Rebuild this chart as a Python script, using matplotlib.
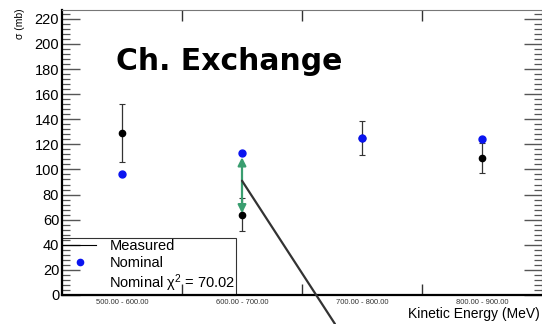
import matplotlib
matplotlib.use("Agg")
import matplotlib.pyplot as plt
from matplotlib.lines import Line2D
from matplotlib.ticker import MultipleLocator, FixedLocator
import numpy as np

plt.rcParams['font.family'] = ['Liberation Sans', 'DejaVu Sans']
plt.rcParams['mathtext.fontset'] = 'custom'
plt.rcParams['mathtext.rm'] = 'Liberation Sans'
plt.rcParams['mathtext.it'] = 'Liberation Sans'

bins = ['500.00 - 600.00', '600.00 - 700.00', '700.00 - 800.00', '800.00 - 900.00']
measured = [129, 64, 125, 109]
measured_err = [23, 13, 13.5, 12]
nominal = [96, 113, 125, 124.5]
chi2_label = 'Nominal \u03c7$^{2}$ = 70.02'
arrow_from = 113
arrow_to = 64
pointer_y = 91

fig = plt.figure(figsize=(5.42, 3.24), dpi=100)
ax = fig.add_axes([62/542, 29/324, 480/542, 285/324])

x = np.arange(len(bins)) + 0.5
ax.errorbar(x, measured, yerr=measured_err, fmt='o', color='black', ms=4.5,
            elinewidth=0.9, capsize=2, capthick=0.8, ecolor='#333333', zorder=3)
ax.plot(x, nominal, 'o', color='#0a14f0', ms=5, zorder=4)

ax.set_xlim(0, 4)
ax.set_ylim(0, 227)
ax.xaxis.set_major_locator(FixedLocator([1, 2, 3]))
ax.set_xticklabels([])
ax.xaxis.set_minor_locator(FixedLocator(list(x)))
ax.set_xticklabels(bins, minor=True, fontsize=5.5, color='#333333')
ax.tick_params(axis='x', which='minor', length=0, pad=3)
ax.tick_params(axis='x', which='major', direction='in', length=8, top=True, width=1, color='#333333')

ax.yaxis.set_major_locator(MultipleLocator(20))
ax.yaxis.set_minor_locator(MultipleLocator(4))
ax.tick_params(axis='y', which='major', direction='in', length=13, right=True, labelsize=10.5, width=1, color='#555555', pad=2)
ax.tick_params(axis='y', which='minor', direction='in', length=6, right=True, width=0.9, color='#555555')

ax.spines['left'].set_linewidth(1.6)
ax.spines['bottom'].set_linewidth(1.6)
ax.spines['top'].set_color('#777777')
ax.spines['right'].set_color('#777777')

fig.text(20/542, 1 - 8/324, '\u03c3 (mb)', rotation=90, ha='center', va='top', fontsize=7.5)
fig.text(540/542, 1 - 314/324, 'Kinetic Energy (MeV)', ha='right', va='center', fontsize=10)

ax.text(116/542, 1 - 61/324, 'Ch. Exchange', transform=fig.transFigure, fontsize=21.5,
        fontweight='bold', ha='left', va='center', family='DejaVu Sans')

ax.annotate('', xy=(1.5, arrow_to), xytext=(1.5, arrow_from),
            arrowprops=dict(arrowstyle='<|-|>', color='#3a9e70', lw=1.6,
                            mutation_scale=12, shrinkA=3, shrinkB=1), zorder=5)
ax.annotate('', xy=(1.5, pointer_y), xycoords='data', xytext=(335/542, 0),
            textcoords='figure fraction',
            arrowprops=dict(arrowstyle='-', color='#333333', lw=1.6, shrinkA=0, shrinkB=0),
            annotation_clip=False, zorder=5)

handles = [Line2D([], [], color='black', lw=0.8),
           Line2D([], [], color='#0a14f0', marker='o', ls='none', ms=4.5),
           Line2D([], [], color='none')]
leg = ax.legend(handles, ['Measured', 'Nominal', chi2_label], loc='lower left',
                bbox_to_anchor=(0, 0), borderaxespad=0, fontsize=10.5, frameon=True,
                fancybox=False, edgecolor='black', handlelength=2.3, handletextpad=0.9,
                labelspacing=0.2, borderpad=0.05)
leg.get_frame().set_linewidth(0.8)
leg.get_frame().set_facecolor('none')

fig.savefig('out.png', dpi=100)
